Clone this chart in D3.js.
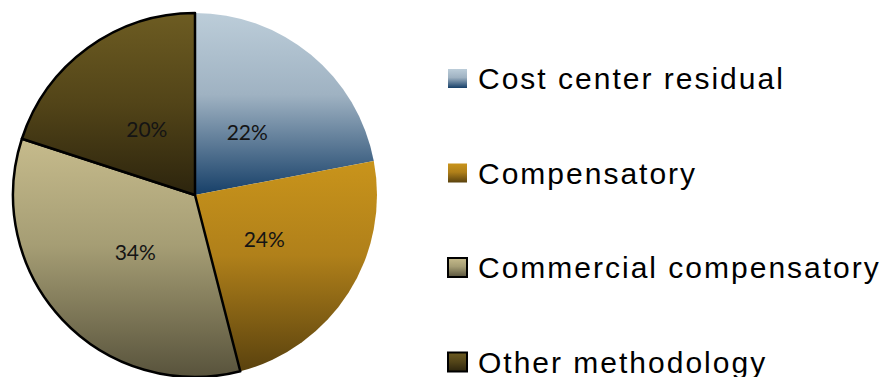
<!DOCTYPE html>
<html>
<head>
<meta charset="utf-8">
<script src="https://cdn.jsdelivr.net/npm/d3@7"></script>
<style>
  html, body { margin: 0; padding: 0; background: #ffffff; }
  svg { display: block; }
</style>
</head>
<body>
<svg id="chart" width="886" height="377"></svg>
<script>
// Share of methodologies (percent)
const categories = ["Cost center residual", "Compensatory", "Commercial compensatory", "Other methodology"];
const values = [22, 24, 34, 20];
// Vertical gradient stops for each category (top -> bottom)
const gradientStops = [
  [["0%", "#bccdd9"], ["45%", "#9fb2c2"], ["100%", "#163f68"]],
  [["0%", "#c9941b"], ["45%", "#b0801a"], ["100%", "#5a420e"]],
  [["0%", "#c6bb8c"], ["45%", "#a59d74"], ["100%", "#58533c"]],
  [["0%", "#6d5c22"], ["50%", "#524418"], ["100%", "#2c240d"]]
];
// Only the last two categories are outlined
const outlined = [false, false, true, true];

const svg = d3.select("#chart");
const defs = svg.append("defs");

gradientStops.forEach((stops, i) => {
  const g = defs.append("linearGradient")
    .attr("id", "grad" + i)
    .attr("x1", 0).attr("y1", 0)
    .attr("x2", 0).attr("y2", 1);
  stops.forEach(([off, col]) => g.append("stop").attr("offset", off).attr("stop-color", col));
});

const cx = 195, cy = 195, radius = 182;

const pie = d3.pie().sort(null).value(d => d);
const arcs = pie(values);
const arc = d3.arc().innerRadius(0).outerRadius(radius);
const labelArc = d3.arc().innerRadius(82).outerRadius(82);

const g = svg.append("g").attr("transform", `translate(${cx},${cy})`);

// Unoutlined slices first so outlines sit on top
const order = d3.range(arcs.length).sort((a, b) => (outlined[a] ? 1 : 0) - (outlined[b] ? 1 : 0));

g.selectAll("path.slice")
  .data(order.map(i => ({ a: arcs[i], i })))
  .join("path")
  .attr("class", "slice")
  .attr("d", d => arc(d.a))
  .attr("fill", d => `url(#grad${d.i})`)
  .attr("stroke", d => outlined[d.i] ? "#000" : "none")
  .attr("stroke-width", 2.5)
  .attr("stroke-linejoin", "round");

g.selectAll("text.pct")
  .data(arcs)
  .join("text")
  .attr("class", "pct")
  .attr("transform", d => `translate(${labelArc.centroid(d)})`)
  .attr("text-anchor", "middle")
  .attr("dominant-baseline", "central")
  .attr("font-family", "Lato, 'Open Sans', sans-serif")
  .attr("font-size", 21)
  .attr("fill", "#141414")
  .text(d => d.data + "%");

// Legend
const legendY = d3.scalePoint().domain(categories).range([78.5, 362]);
const legend = svg.append("g").attr("class", "legend");
const items = legend.selectAll("g.item")
  .data(categories)
  .join("g")
  .attr("class", "item")
  .attr("transform", d => `translate(448,${legendY(d)})`);

items.append("rect")
  .attr("x", 0).attr("y", -9.5)
  .attr("width", 19).attr("height", 19)
  .attr("fill", (d, i) => `url(#grad${i})`)
  .attr("stroke", (d, i) => outlined[i] ? "#000" : "none")
  .attr("stroke-width", 2);

items.append("text")
  .attr("x", 30)
  .attr("y", 10.5)
  .attr("font-family", "'Liberation Sans', Arial, sans-serif")
  .attr("font-size", 30)
  .attr("letter-spacing", 2)
  .attr("fill", "#000")
  .text(d => d);
</script>
</body>
</html>
